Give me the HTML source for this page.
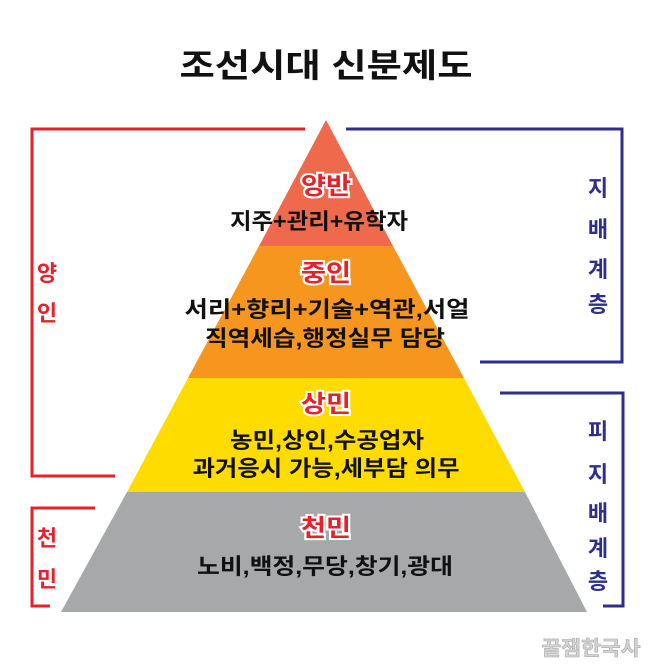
<!DOCTYPE html>
<html><head><meta charset="utf-8"><style>
html,body{margin:0;padding:0;background:#fff;}
svg{display:block;}
text{font-family:"Liberation Sans","Noto Sans CJK KR","NanumGothic",sans-serif;font-weight:bold;}
.lab{fill:#e8202a;stroke:#fff;stroke-width:4;paint-order:stroke;font-size:24px;text-anchor:middle;}
.t{fill:#111;font-size:22px;text-anchor:middle;}
.r{fill:#e8202a;font-size:22px;text-anchor:middle;}
.b{fill:#2e2e8c;font-size:22px;text-anchor:middle;}
</style></head><body>
<svg width="651" height="670" viewBox="0 0 651 670" xmlns="http://www.w3.org/2000/svg">
<text x="326" y="77" font-size="33" text-anchor="middle" fill="#111" textLength="293" lengthAdjust="spacingAndGlyphs">조선시대 신분제도</text>
<polygon points="326,120 393,246 259,246" fill="#ef6a4c"/>
<polygon points="259,246 393,246 464,378 188,378" fill="#f6961f"/>
<polygon points="188,378 464,378 525,492 127,492" fill="#fedc00"/>
<polygon points="127,492 525,492 587,612 61,612" fill="#a7a8aa"/>
<polyline points="305,129 32,129 32,476 115,476" fill="none" stroke="#e8202a" stroke-width="3"/>
<polyline points="95,508 32,508 32,606 50,606" fill="none" stroke="#e8202a" stroke-width="3"/>
<polyline points="346,129 622,129 622,362 480,362" fill="none" stroke="#2e2e8c" stroke-width="3"/>
<polyline points="500,393 623,393 623,606 603,606" fill="none" stroke="#2e2e8c" stroke-width="3"/>
<text class="r" x="47" y="281">양</text><text class="r" x="47" y="321">인</text>
<text class="r" x="47" y="546">천</text><text class="r" x="47" y="587">민</text>
<text class="b" x="598" y="196">지</text><text class="b" x="598" y="237">배</text><text class="b" x="598" y="277">계</text><text class="b" x="598" y="312">층</text>
<text class="b" x="598" y="439">피</text><text class="b" x="598" y="482">지</text><text class="b" x="598" y="521">배</text><text class="b" x="598" y="556">계</text><text class="b" x="598" y="589">층</text>
<text class="lab" x="326" y="194" textLength="50" lengthAdjust="spacingAndGlyphs">양반</text>
<text class="t" x="319" y="229" textLength="178" lengthAdjust="spacingAndGlyphs">지주+관리+유학자</text>
<text class="lab" x="326" y="281" textLength="50" lengthAdjust="spacingAndGlyphs">중인</text>
<text class="t" x="327" y="317" textLength="285" lengthAdjust="spacingAndGlyphs">서리+향리+기술+역관,서얼</text>
<text class="t" x="325" y="346" textLength="240" lengthAdjust="spacingAndGlyphs">직역세습,행정실무 담당</text>
<text class="lab" x="326" y="412" textLength="50" lengthAdjust="spacingAndGlyphs">상민</text>
<text class="t" x="327" y="448" textLength="194" lengthAdjust="spacingAndGlyphs">농민,상인,수공업자</text>
<text class="t" x="326" y="476" textLength="267" lengthAdjust="spacingAndGlyphs">과거응시 가능,세부담 의무</text>
<text class="lab" x="326" y="536" textLength="50" lengthAdjust="spacingAndGlyphs">천민</text>
<text class="t" x="325" y="574" textLength="256" lengthAdjust="spacingAndGlyphs">노비,백정,무당,창기,광대</text>
<text x="591" y="655" font-size="20" text-anchor="middle" fill="#d4d4d4" stroke="#aaa" stroke-width="0.6" textLength="99" lengthAdjust="spacingAndGlyphs">꿀잼한국사</text>
</svg>
</body></html>
